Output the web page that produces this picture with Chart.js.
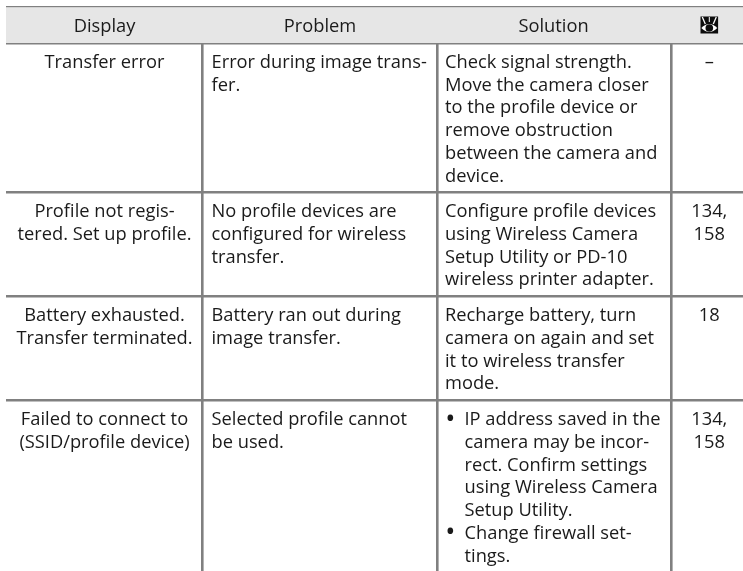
<!DOCTYPE html>
<html><head><meta charset="utf-8">
<style>html,body{margin:0;padding:0;background:#fff}#w{width:743px;height:571px}</style>
<script src="https://cdn.jsdelivr.net/npm/chart.js@4/dist/chart.umd.min.js"></script>
</head><body><div id="w"><canvas id="c" width="743" height="571"></canvas></div>
<script>
const headers = ["Display", "Problem", "Solution"];
const displayLines = [["Transfer error"],["Profile not regis-","tered. Set up profile."],["Battery exhausted.","Transfer terminated."],["Failed to connect to","(SSID/profile device)"]];
const problemLines = [["Error during image trans-","fer."],["No profile devices are","configured for wireless","transfer."],["Battery ran out during","image transfer."],["Selected profile cannot","be used."]];
const solutionLines = [["Check signal strength.","Move the camera closer","to the profile device or","remove obstruction","between the camera and","device."],["Configure profile devices","using Wireless Camera","Setup Utility or PD-10","wireless printer adapter."],["Recharge battery, turn","camera on again and set","it to wireless transfer","mode."]];
const bulletLines = [["IP address saved in the","camera may be incor-","rect. Confirm settings","using Wireless Camera","Setup Utility.","Change firewall set-","tings."]];
const bulletMarks = ["•","","","","","•"];
const pageLines = [["–"],["134,","158"],["18"],["134,","158"]];
const columnEdges = [202.3, 437.7, 671.5];
const rowEdges = [7.2, 43, 192.4, 296.3, 400.4];
const FONT = '18.3px "Open Sans"', BULLET_FONT = '27px "Open Sans"';
const LH = 22.75;
const INK = '#1a1a1a', RULE = '#808080';

function baseline(r, n){ return rowEdges[r+1] + 24.8 + n*LH; }
function lines(col, align, x, offset=0){
  const pts = [];
  col.forEach((cell, r) => cell.forEach((t, n) => pts.push({x, y: baseline(r+offset, n), t, align})));
  return pts;
}
const tablePlugin = {
  id:'table',
  beforeDatasetsDraw(ch){
    const {ctx, scales:{x,y}} = ch;
    ctx.save(); ctx.fillStyle='#e6e6e6';
    ctx.fillRect(x.getPixelForValue(6), y.getPixelForValue(rowEdges[0]), x.getPixelForValue(743)-x.getPixelForValue(6), y.getPixelForValue(rowEdges[1])-y.getPixelForValue(rowEdges[0]));
    ctx.restore();
  },
  afterDatasetsDraw(ch){
    const {ctx} = ch;
    ctx.save(); ctx.fillStyle=INK; ctx.textBaseline='alphabetic';
    ch.data.datasets.forEach((ds,di)=>{
      ctx.font = ds.bulletFont || FONT;
      ch.getDatasetMeta(di).data.forEach((el,i)=>{
        const p = ds.data[i]; ctx.textAlign = p.align;
        ctx.fillText(p.t, el.x, el.y);
      });
    });
    // eye symbol in the header
    const sx = ch.scales.x.getPixelForValue(709.3), sy = ch.scales.y.getPixelForValue(25);
    ctx.fillStyle='#0d0d0d'; ctx.fillRect(sx-8.8,sy-8.5,17.6,17);
    ctx.fillStyle='#fff'; ctx.strokeStyle='#fff'; ctx.lineWidth=1.3;
    ctx.beginPath(); ctx.moveTo(sx-8,sy+3); ctx.quadraticCurveTo(sx,sy-5,sx+8,sy+3); ctx.quadraticCurveTo(sx,sy+11,sx-8,sy+3); ctx.fill();
    ctx.fillStyle='#0d0d0d'; ctx.beginPath(); ctx.arc(sx,sy+3,3.8,0,7); ctx.fill();
    [[-7,-8,-4,-1],[7,-8,4,-1]].forEach(a=>{ctx.beginPath();ctx.moveTo(sx+a[0],sy+a[1]);ctx.lineTo(sx+a[2],sy+a[3]);ctx.stroke();});
    ctx.lineWidth=1; ctx.beginPath(); ctx.moveTo(sx,sy-8); ctx.lineTo(sx,sy-3); ctx.stroke();
    ctx.restore();
  }
};
const hdr = headers.map((t,i)=>({x:[104.5,320,553.5][i], y:32, t, align:'center'}));
const bullets = bulletMarks.map((t,n)=>({x:445.2,y:baseline(3,n)+2.3,t,align:'left'})).filter(p=>p.t);
const pointStyle = {pointRadius:0, showLine:false};
new Chart(document.getElementById('c'), {
  type:'scatter',
  data:{datasets:[
    {data:hdr, ...pointStyle},
    {data:lines(displayLines,'center',104.5), ...pointStyle},
    {data:lines(problemLines,'left',211.5), ...pointStyle},
    {data:lines(solutionLines,'left',445), ...pointStyle},
    {data:lines(bulletLines,'left',464.5,3), ...pointStyle},
    {data:bullets, bulletFont:BULLET_FONT, ...pointStyle},
    {data:lines(pageLines,'center',709.3), ...pointStyle}
  ]},
  options:{
    responsive:false, animation:false, devicePixelRatio:1,
    layout:{padding:{left:6,top:6,right:0,bottom:0}},
    plugins:{legend:{display:false},tooltip:{enabled:false}},
    scales:{
      x:{type:'linear',min:6,max:743,display:true,border:{display:false},
        ticks:{display:false},
        afterBuildTicks(a){a.ticks=columnEdges.map(v=>({value:v}));},
        afterFit(a){a.height=0;},
        grid:{color:RULE,lineWidth:2.6,drawTicks:false}},
      y:{type:'linear',min:6,max:571,reverse:true,display:true,border:{display:false},
        ticks:{display:false},
        afterBuildTicks(a){a.ticks=rowEdges.map(v=>({value:v}));},
        afterFit(a){a.width=0;},
        grid:{color:RULE,lineWidth:2.6,drawTicks:false}}
    }
  },
  plugins:[tablePlugin]
});
</script></body></html>
